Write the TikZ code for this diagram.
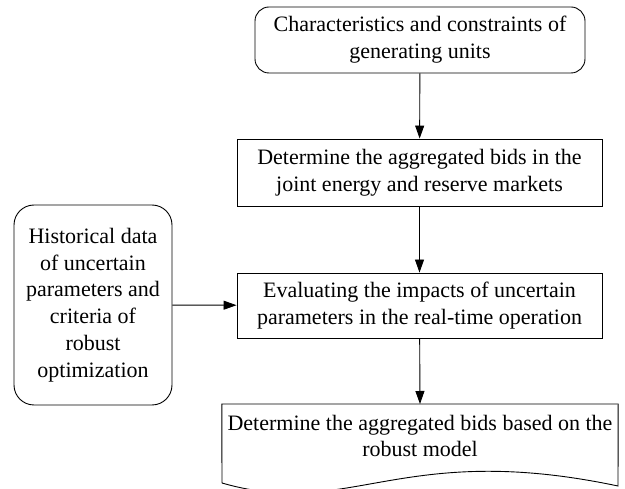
\documentclass[tikz,border=0pt]{standalone}
\usepackage{fontspec}
\setmainfont{Liberation Serif}
\usetikzlibrary{arrows.meta}
\begin{document}
\begin{tikzpicture}[x=1pt,y=-1pt,
  every node/.style={font=\fontsize{22}{26.8}\selectfont, align=center, inner sep=0pt},
  boxrect/.style={draw, line width=0.9pt, minimum width=#1, minimum height=66pt},
  boxround/.style={draw, line width=0.9pt, rounded corners=14pt},
  arr/.style={line width=0.9pt, -{Triangle[length=13pt,width=9pt]}}]
\useasboundingbox (0,0) rectangle (625,489);
\node[boxround, minimum width=330pt, minimum height=66pt] (top) at (420,40)
  {Characteristics and constraints of\\generating units};
\node[boxrect=365pt, minimum height=67pt] (bids) at (419.5,172.5)
  {Determine the aggregated bids in the\\joint energy and reserve markets};
\node[boxrect=365pt, minimum height=65pt] (eval) at (419.5,305.5)
  {Evaluating the impacts of uncertain\\parameters in the real-time operation};
\node[boxround, rounded corners=20pt, minimum width=158pt, minimum height=200pt] (hist) at (93,305)
  {Historical data\\of uncertain\\parameters and\\criteria of\\robust\\optimization};
\node[minimum width=396pt, minimum height=80pt, anchor=north] (doc) at (420,404)
  {};
\node (doctext) at (420,436) {Determine the aggregated bids based on the\\robust model};
\coordinate (dl) at (222,483);
\coordinate (dr) at (618,486);
\draw[line width=0.9pt] (dl) -- (doc.north west) -- (doc.north east) -- (dr)
  .. controls (400,440) and (350,520) .. (dl);
\draw[arr] (top) -- (bids);
\draw[arr] (bids) -- (eval);
\draw[arr] (eval) -- (doc.north);
\draw[arr] (hist) -- (eval);
\end{tikzpicture}
\end{document}
